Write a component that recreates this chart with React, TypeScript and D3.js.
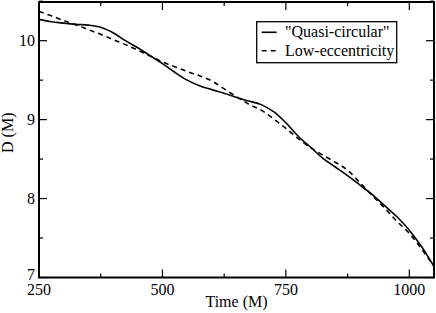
import React from 'react';
import * as d3 from 'd3';

// time samples (M)
const times = [
  250, 275, 300, 325, 350, 375, 400, 425, 450, 475, 500, 525, 550, 575, 600, 625, 650,
  675, 700, 725, 750, 775, 800, 825, 850, 875, 900, 925, 950, 975, 1000, 1025, 1050,
];
// separation D (M), "Quasi-circular" run
const quasiCircular = [
  10.27, 10.24, 10.222, 10.207, 10.197, 10.17, 10.1, 10.0, 9.91, 9.81, 9.71, 9.6, 9.5, 9.43, 9.38, 9.335, 9.28,
  9.235, 9.19, 9.1, 8.96, 8.79, 8.65, 8.51, 8.4, 8.29, 8.17, 8.05, 7.91, 7.77, 7.6, 7.39, 7.14,
];
// separation D (M), low-eccentricity run
const lowEccentricity = [
  10.37, 10.315, 10.255, 10.2, 10.14, 10.08, 10.015, 9.95, 9.88, 9.805, 9.73, 9.67, 9.61, 9.555, 9.49, 9.39, 9.29,
  9.195, 9.12, 9.01, 8.89, 8.76, 8.645, 8.55, 8.46, 8.36, 8.2, 8.04, 7.88, 7.71, 7.56, 7.36, 7.14,
];

const xMajor = [250, 500, 750, 1000];
const xMinor = [375, 625, 875];
const yMajor = [7, 8, 9, 10];
const yMinor = [7.5, 8.5, 9.5, 10.5];

const series = [
  { name: '"Quasi-circular"', values: quasiCircular, dash: null },
  { name: 'Low-eccentricity', values: lowEccentricity, dash: '5,4' },
];

const width = 436;
const height = 313;
const margins = { top: 2, right: 2, bottom: 35.5, left: 39 };
const serif = "'Times New Roman', 'Liberation Serif', Times, serif";

export default function App() {
  const innerW = width - margins.left - margins.right;
  const innerH = height - margins.top - margins.bottom;

  const x = d3.scaleLinear().domain([250, 1050]).range([0, innerW]);
  const y = d3.scaleLinear().domain([7, 10.49]).range([innerH, 0]);

  const line = d3.line<number>()
    .x((d, i) => x(times[i]))
    .y(d => y(d))
    .curve(d3.curveCatmullRom.alpha(0.5));

  const major = 8;
  const minor = 4;

  return (
    <svg width={width} height={height} style={{ position: 'absolute', left: 0, top: 0, fontFamily: serif }}>
      <defs>
        <clipPath id="plot-clip">
          <rect x={0} y={0} width={innerW} height={innerH} />
        </clipPath>
      </defs>
      <g transform={`translate(${margins.left},${margins.top})`}>
        {/* curves */}
        <g clipPath="url(#plot-clip)">
          {series.map(s => (
            <path key={s.name} d={line(s.values) || ''} fill="none" stroke="#000"
              strokeWidth={1.6} strokeDasharray={s.dash || undefined} />
          ))}
        </g>

        {/* ticks, all four sides, pointing in */}
        {xMajor.concat(xMinor).map(t => {
          const len = xMajor.includes(t) ? major : minor;
          return (
            <g key={`xt${t}`} stroke="#000" strokeWidth={1.2}>
              <line x1={x(t)} x2={x(t)} y1={innerH} y2={innerH - len} />
              <line x1={x(t)} x2={x(t)} y1={0} y2={len} />
            </g>
          );
        })}
        {yMajor.concat(yMinor).map(t => {
          const len = yMajor.includes(t) ? major : minor;
          return (
            <g key={`yt${t}`} stroke="#000" strokeWidth={1.2}>
              <line x1={0} x2={len} y1={y(t)} y2={y(t)} />
              <line x1={innerW} x2={innerW - len} y1={y(t)} y2={y(t)} />
            </g>
          );
        })}

        {/* frame */}
        <rect x={0} y={0} width={innerW} height={innerH} fill="none" stroke="#000" strokeWidth={2} />

        {/* tick labels */}
        {xMajor.map(t => (
          <text key={`xl${t}`} x={x(t)} y={innerH + 17.5} textAnchor="middle" fontSize={16}>{t}</text>
        ))}
        {yMajor.map(t => (
          <text key={`yl${t}`} x={-4} y={y(t) + (t === 7 ? 2 : 5)} textAnchor="end" fontSize={16}>{t}</text>
        ))}

        {/* axis titles */}
        <text x={innerW / 2} y={innerH + 29.5} textAnchor="middle" fontSize={16}>Time (M)</text>
        <text transform={`translate(${-26},${innerH / 2 - 7}) rotate(-90)`} textAnchor="middle" fontSize={16}>D (M)</text>

        {/* legend */}
        <g transform={`translate(${217.7},${19.7})`}>
          <rect x={0} y={0} width={140} height={41} fill="#fff" stroke="#000" strokeWidth={1.3} />
          {series.map((s, i) => (
            <g key={`lg${i}`} transform={`translate(0,${10.6 + i * 18.4})`}>
              <line x1={5} x2={20} y1={0} y2={0} stroke="#000" strokeWidth={1.6}
                strokeDasharray={s.dash || undefined} />
              <text x={28.3} y={5} fontSize={16}>{s.name}</text>
            </g>
          ))}
        </g>
      </g>
    </svg>
  );
}
